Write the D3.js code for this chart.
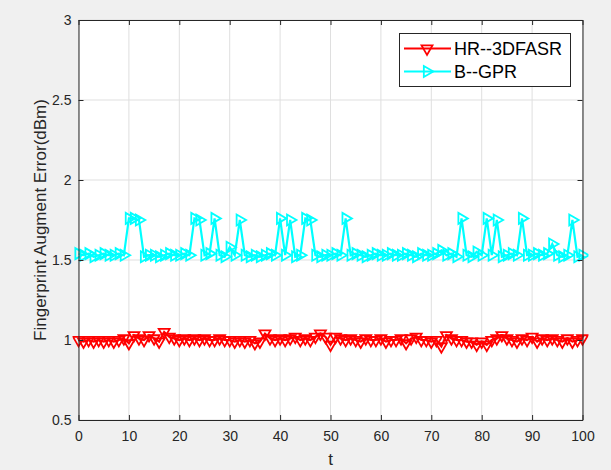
<!DOCTYPE html>
<html>
<head>
<meta charset="utf-8">
<title>Fingerprint Augment Error</title>
<script src="https://d3js.org/d3.v7.min.js"></script>
<style>
  body { margin: 0; background: #f0f0f0; }
  svg { display: block; font-family: "Liberation Sans", Arial, sans-serif; }
</style>
</head>
<body>
<svg id="chart" width="611" height="470"></svg>
<script>
// data, t = 0..100
const tValues = d3.range(0, 101);

const hrValues = [
  1.00, 0.99, 1.00, 0.99, 1.00, 0.99, 1.00, 0.99, 1.00, 1.01,
  0.98, 1.03, 1.01, 1.00, 1.03, 1.01, 0.99, 1.05, 1.02, 1.01,
  1.00, 1.01, 1.00, 1.01, 1.00, 1.01, 1.00, 1.00, 1.01, 1.00,
  1.00, 0.99, 1.00, 0.99, 1.00, 0.98, 0.99, 1.04, 1.01, 1.00,
  1.01, 1.00, 1.01, 1.02, 1.00, 1.01, 1.00, 1.02, 1.04, 1.02,
  0.97, 1.02, 1.01, 1.00, 1.01, 1.00, 0.99, 1.01, 1.00, 1.00,
  1.01, 0.99, 1.00, 1.00, 1.01, 0.98, 1.01, 1.02, 1.00, 1.00,
  0.99, 1.00, 0.96, 1.03, 1.01, 1.00, 1.00, 0.99, 0.99, 0.97,
  0.99, 0.97, 1.00, 1.01, 1.03, 1.01, 1.00, 0.99, 1.01, 1.00,
  1.02, 0.99, 1.01, 1.00, 1.01, 1.00, 0.99, 1.01, 0.99, 1.00,
  1.01
];

const gprValues = [
  1.54, 1.53, 1.54, 1.52, 1.53, 1.54, 1.53, 1.53, 1.54, 1.53,
  1.76, 1.76, 1.75, 1.52, 1.53, 1.53, 1.52, 1.53, 1.54, 1.53,
  1.53, 1.54, 1.53, 1.76, 1.75, 1.53, 1.54, 1.76, 1.53, 1.52,
  1.58, 1.53, 1.75, 1.53, 1.52, 1.53, 1.52, 1.53, 1.54, 1.53,
  1.76, 1.53, 1.75, 1.52, 1.53, 1.76, 1.75, 1.53, 1.52, 1.53,
  1.53, 1.54, 1.53, 1.76, 1.53, 1.54, 1.53, 1.52, 1.53, 1.54,
  1.53, 1.53, 1.54, 1.53, 1.53, 1.54, 1.53, 1.52, 1.54, 1.53,
  1.53, 1.54, 1.56, 1.53, 1.54, 1.52, 1.76, 1.53, 1.52, 1.55,
  1.53, 1.76, 1.53, 1.75, 1.52, 1.53, 1.54, 1.53, 1.76, 1.53,
  1.53, 1.54, 1.53, 1.54, 1.60, 1.53, 1.52, 1.53, 1.75, 1.52,
  1.53
];

const xTicks = [0, 10, 20, 30, 40, 50, 60, 70, 80, 90, 100];
const yTicks = [0.5, 1, 1.5, 2, 2.5, 3];
const seriesNames = ["HR--3DFASR", "B--GPR"];

const svg = d3.select("#chart");
const margin = {top: 20, right: 28.5, bottom: 50, left: 78.5};
const W = 611, H = 470;
const width = W - margin.left - margin.right,
      height = H - margin.top - margin.bottom;

const axisColor = "#262626";

const x = d3.scaleLinear().domain([0, 100]).range([0, width]);
const y = d3.scaleLinear().domain([0.5, 3]).range([height, 0]);

const g = svg.append("g")
    .attr("transform", "translate(" + margin.left + "," + margin.top + ")");

// plot area
g.append("rect")
    .attr("width", width)
    .attr("height", height)
    .attr("fill", "#fff");

// grid
g.selectAll(".vgrid").data(xTicks).enter().append("line")
    .attr("x1", d => x(d)).attr("x2", d => x(d))
    .attr("y1", 0).attr("y2", height)
    .attr("stroke", "#dfdfdf");
g.selectAll(".hgrid").data(yTicks).enter().append("line")
    .attr("y1", d => y(d)).attr("y2", d => y(d))
    .attr("x1", 0).attr("x2", width)
    .attr("stroke", "#dfdfdf");

// clip for data
svg.append("clipPath").attr("id", "clip")
  .append("rect").attr("x", -6).attr("width", width + 12).attr("height", height);

const plot = g.append("g").attr("clip-path", "url(#clip)");

function drawSeries(vals, color, rot) {
  const pts = tValues.map((t, i) => [t, vals[i]]);
  const line = d3.line().x(d => x(d[0])).y(d => y(d[1]));
  plot.append("path")
      .datum(pts)
      .attr("d", line)
      .attr("fill", "none")
      .attr("stroke", color)
      .attr("stroke-width", 2.2);
  const sym = d3.symbol().type(d3.symbolTriangle).size(52);
  plot.selectAll(null).data(pts).enter().append("path")
      .attr("d", sym)
      .attr("transform", d => "translate(" + x(d[0]) + "," + y(d[1]) + ") rotate(" + rot + ")")
      .attr("fill", "none")
      .attr("stroke", color)
      .attr("stroke-width", 1.8);
}

drawSeries(gprValues, "#00ffff", 90);
drawSeries(hrValues, "#ff0000", 180);

// axes
const xAxis = d3.axisBottom(x).tickValues(xTicks).tickSizeInner(-5).tickSizeOuter(0).tickPadding(11);
const yAxis = d3.axisLeft(y).tickValues(yTicks).tickSizeInner(-5).tickSizeOuter(0).tickPadding(7)
    .tickFormat(d3.format("~g"));

const gx = g.append("g").attr("transform", "translate(0," + height + ")").call(xAxis);
const gy = g.append("g").call(yAxis);
const gxTop = g.append("g").call(d3.axisTop(x).tickValues(xTicks).tickSizeInner(-5).tickSizeOuter(0).tickFormat(""));
const gyRight = g.append("g").attr("transform", "translate(" + width + ",0)")
    .call(d3.axisRight(y).tickValues(yTicks).tickSizeInner(-5).tickSizeOuter(0).tickFormat(""));

[gx, gy, gxTop, gyRight].forEach(a => {
  a.select(".domain").attr("stroke", axisColor);
  a.selectAll(".tick line").attr("stroke", axisColor);
  a.selectAll(".tick text")
      .attr("fill", axisColor)
      .style("font-size", "14px")
      .style("font-family", "'Liberation Sans', Arial, sans-serif");
});

// axis labels
svg.append("text")
    .attr("x", margin.left + width / 2)
    .attr("y", 465)
    .attr("text-anchor", "middle")
    .attr("fill", axisColor)
    .style("font-size", "17px")
    .text("t");

svg.append("text")
    .attr("transform", "translate(46," + (margin.top + height / 2) + ") rotate(-90)")
    .attr("text-anchor", "middle")
    .attr("fill", axisColor)
    .style("font-size", "17px")
    .text("Fingerprint Augment Error(dBm)");

// legend
const legend = svg.append("g");
legend.append("rect")
    .attr("x", 399.5).attr("y", 33.5)
    .attr("width", 171).attr("height", 53)
    .attr("fill", "#fff")
    .attr("stroke", axisColor)
    .attr("stroke-width", 1);

const legendColors = ["#ff0000", "#00ffff"];
const legendRot = [180, 90];
seriesNames.forEach((name, i) => {
  const ly = 48.5 + i * 23;
  legend.append("line")
      .attr("x1", 404).attr("x2", 451)
      .attr("y1", ly).attr("y2", ly)
      .attr("stroke", legendColors[i])
      .attr("stroke-width", 2.2);
  legend.append("path")
      .attr("d", d3.symbol().type(d3.symbolTriangle).size(52)())
      .attr("transform", "translate(427," + ly + ") rotate(" + legendRot[i] + ")")
      .attr("fill", "none")
      .attr("stroke", legendColors[i])
      .attr("stroke-width", 1.8);
  legend.append("text")
      .attr("x", 454)
      .attr("y", ly)
      .attr("dy", "0.36em")
      .attr("fill", "#000")
      .style("font-size", "18px")
      .text(name);
});
</script>
</body>
</html>
